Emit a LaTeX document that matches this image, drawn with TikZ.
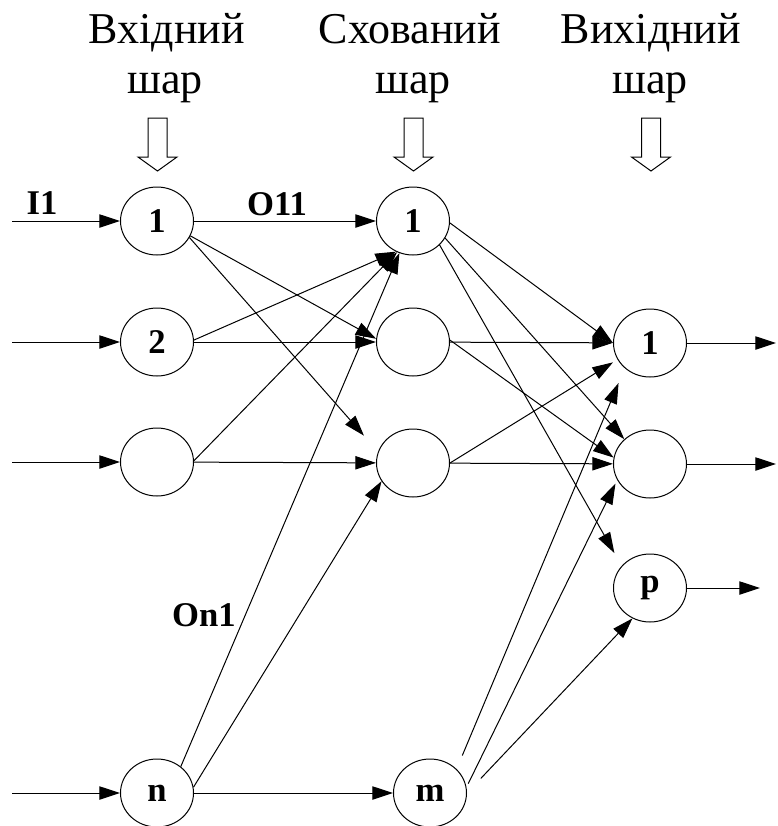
\documentclass[tikz,border=0pt]{standalone}
\usepackage{fontspec}
\setmainfont{Liberation Serif}
\usetikzlibrary{arrows.meta,shapes.geometric}
\begin{document}
\begin{tikzpicture}[x=0.75pt,y=-0.75pt,
  neuron/.style={ellipse,draw,line width=0.75pt,minimum width=54.75pt,minimum height=51pt,inner sep=0pt,font=\fontsize{26}{26}\selectfont\bfseries},
  conn/.style={line width=0.75pt,-{Triangle[length=15.5pt,width=10pt]}},
  hdr/.style={anchor=base,inner sep=0pt,font=\fontsize{33}{38}\selectfont},
  lbl/.style={inner sep=0pt,font=\fontsize{26}{26}\selectfont\bfseries},
  hollow/.style={draw,line width=0.75pt,fill=white}]
\useasboundingbox (0,0) rectangle (778,826);
\clip (0,0) rectangle (778,826);
% headers
\node[hdr] (ha1) at (167,43) {Вхідний};
\node[hdr] (ha2) at (165,93) {шар};
\node[hdr] (hb1) at (410,43) {Схований};
\node[hdr] (hb2) at (413,93) {шар};
\node[hdr] (hc1) at (651,43) {Вихідний};
\node[hdr] (hc2) at (650,93) {шар};
% hollow arrows
\foreach \x in {157.5,413.5,651}
  \draw[hollow] (\x-9.5,118) -- (\x+9.5,118) -- (\x+9.5,157) -- (\x+19.5,157) -- (\x,171) -- (\x-19.5,157) -- (\x-9.5,157) -- cycle;
% neurons
\node[neuron] (i1) at (157,221) {1};
\node[neuron] (i2) at (157,342) {2};
\node[neuron] (i3) at (157,462) {};
\node[neuron] (inn) at (157,793) {n};
\node[neuron] (h1) at (413,221) {1};
\node[neuron] (h2) at (413,342) {};
\node[neuron] (h3) at (413,463) {};
\node[neuron] (hm) at (430,793) {m};
\node[neuron] (o1) at (650,343) {1};
\node[neuron] (o2) at (650,464) {};
\node[neuron] (op) at (650,588) {p};
% labels
\node[lbl] (lI) at (42,203) {I1};
\node[lbl] (lO) at (277,204) {O11};
\node[lbl] (lOn) at (204,615) {On1};
% inputs
\coordinate (s1) at (12,221);
\coordinate (s2) at (12,342);
\coordinate (s3) at (12,462);
\coordinate (s4) at (12,793);
\draw[conn] (s1) -- (i1);
\draw[conn] (s2) -- (i2);
\draw[conn] (s3) -- (i3);
\draw[conn] (s4) -- (inn);
% input -> hidden
\draw[conn] (i1) -- (h1);
\draw[conn] (i1.-24) -- (h2.175);
\draw[conn,shorten >=16pt] (i1.-27) -- (h3.162);
\draw[conn] (i2) -- (h2);
\draw[conn] (i2.3) -- (h1.241);
\draw[conn] (i3) -- (h3);
\draw[conn] (i3.2) -- (h1.243);
\draw[conn] (inn.48) -- (h1.247);
\draw[conn] (inn.9) -- (h3.210);
\draw[conn] (inn) -- (hm);
% hidden -> output
\draw[conn] (h1.-3) -- (o1.west);
\draw[conn] (h1.-28) -- (o2.136);
\draw[conn,shorten >=11pt] (h1.-42) -- (op.142);
\draw[conn] (h2) -- (o1);
\draw[conn] (h2.3) -- (o2.170);
\draw[conn,shorten >=4pt] (h3.east) -- (o1.207);
\draw[conn] (h3) -- (o2);
\draw[conn,shorten <=11pt,shorten >=12pt] (hm.42) -- (o1.225);
\draw[conn,shorten <=3pt,shorten >=3pt] (hm.9) -- (o2.206);
\draw[conn,shorten <=15pt] (hm.0) -- (op.240);
% outputs
\coordinate (e1) at (776,343);
\coordinate (e2) at (776,464);
\coordinate (e3) at (760,588);
\draw[conn] (o1) -- (e1);
\draw[conn] (o2) -- (e2);
\draw[conn] (op) -- (e3);
\end{tikzpicture}
\end{document}
